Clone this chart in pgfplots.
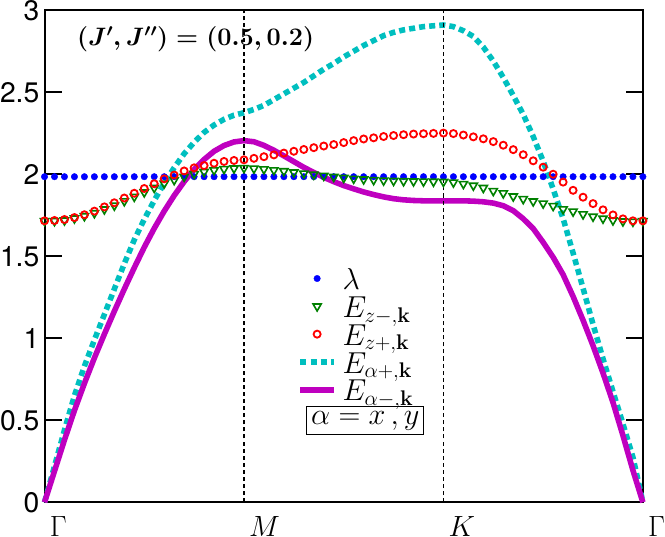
\RequirePackage{fix-cm}
\documentclass[border=0pt]{standalone}
\usepackage[no-math]{fontspec}
\setmainfont{TeX Gyre Heros}
\usepackage{pgfplots}
\usepackage{pgfplotstable}
\pgfplotsset{compat=1.18}
\definecolor{cG}{rgb}{0,0.5,0}
\definecolor{cC}{rgb}{0,0.75,0.75}
\definecolor{cM}{rgb}{0.75,0,0.75}
\setlength{\fboxsep}{4bp}
\setlength{\fboxrule}{0.8bp}
\newsavebox{\titlebox}
\newsavebox{\alphabox}
\newsavebox{\lA}\newsavebox{\lB}\newsavebox{\lC}\newsavebox{\lD}\newsavebox{\lE}
\newsavebox{\tG}\newsavebox{\tM}\newsavebox{\tK}
\pgfplotsset{
  legend image code/.code={\draw[mark repeat=2,mark phase=2,#1] plot coordinates {(0bp,11bp) (16.5bp,11bp) (33bp,11bp)};},
}
\pgfplotstableread{
x lam zm zp ap am
0.00 1.985 1.715 1.716 0 0
0.05 1.985 1.715 1.718 0.22 0.19
0.10 1.985 1.719 1.724 0.44 0.38
0.15 1.985 1.731 1.736 0.65 0.56
0.20 1.985 1.745 1.753 0.83 0.725
0.25 1.985 1.763 1.775 0.99 0.88
0.30 1.985 1.786 1.801 1.145 1.025
0.35 1.985 1.809 1.826 1.30 1.165
0.40 1.985 1.836 1.855 1.455 1.30
0.45 1.985 1.863 1.884 1.60 1.43
0.50 1.985 1.890 1.913 1.725 1.555
0.55 1.985 1.917 1.942 1.84 1.67
0.60 1.985 1.944 1.972 1.945 1.775
0.65 1.985 1.965 1.995 2.04 1.87
0.70 1.985 1.985 2.020 2.125 1.955
0.75 1.985 2.002 2.039 2.195 2.03
0.80 1.985 2.015 2.053 2.255 2.09
0.85 1.985 2.025 2.067 2.30 2.14
0.90 1.985 2.032 2.078 2.335 2.175
0.95 1.985 2.036 2.084 2.36 2.197
1.00 1.985 2.038 2.088 2.375 2.205
1.05 1.985 2.035 2.097 2.395 2.198
1.10 1.985 2.031 2.107 2.42 2.176
1.15 1.985 2.025 2.118 2.455 2.146
1.20 1.985 2.019 2.129 2.49 2.112
1.25 1.985 2.012 2.140 2.525 2.077
1.30 1.985 2.005 2.151 2.56 2.042
1.35 1.985 1.998 2.162 2.60 2.011
1.40 1.985 1.991 2.172 2.64 1.981
1.45 1.985 1.984 2.181 2.675 1.955
1.50 1.985 1.978 2.193 2.715 1.931
1.55 1.985 1.973 2.205 2.75 1.911
1.60 1.985 1.969 2.215 2.785 1.892
1.65 1.985 1.965 2.222 2.815 1.876
1.70 1.985 1.962 2.230 2.845 1.862
1.75 1.985 1.960 2.236 2.865 1.851
1.80 1.985 1.958 2.241 2.88 1.844
1.85 1.985 1.957 2.245 2.89 1.840
1.90 1.985 1.956 2.247 2.90 1.838
1.95 1.985 1.955 2.249 2.905 1.838
2.00 1.985 1.954 2.251 2.91 1.838
2.05 1.985 1.950 2.248 2.90 1.838
2.10 1.985 1.941 2.239 2.875 1.838
2.15 1.985 1.931 2.228 2.84 1.836
2.20 1.985 1.917 2.216 2.775 1.832
2.25 1.985 1.898 2.199 2.69 1.824
2.30 1.985 1.884 2.177 2.59 1.808
2.35 1.985 1.865 2.150 2.48 1.778
2.40 1.985 1.849 2.119 2.365 1.729
2.45 1.985 1.835 2.082 2.23 1.669
2.50 1.985 1.822 2.043 2.08 1.585
2.55 1.985 1.807 2.000 1.91 1.494
2.60 1.985 1.787 1.952 1.73 1.388
2.65 1.985 1.773 1.902 1.52 1.255
2.70 1.985 1.756 1.860 1.305 1.110
2.75 1.985 1.742 1.821 1.085 0.955
2.80 1.985 1.730 1.783 0.875 0.788
2.85 1.985 1.719 1.752 0.675 0.609
2.90 1.985 1.713 1.728 0.478 0.407
2.95 1.985 1.711 1.716 0.275 0.195
3.00 1.985 1.715 1.716 0 0
}\datatable
\begin{document}
\sbox{\titlebox}{\fontsize{25}{28}\selectfont\boldmath$(J',J'')=(0.5,0.2)$}%
\sbox{\alphabox}{\fontsize{30}{32}\selectfont\fbox{$\alpha=x\,,y$}}%
\sbox{\lA}{\fontsize{30}{32}\selectfont\vrule height 22bp depth 14.5bp width 0pt$\lambda$}%
\sbox{\lB}{\fontsize{30}{32}\selectfont\vrule height 22bp depth 14.5bp width 0pt$E_{z-,\mathbf{k}}$}%
\sbox{\lC}{\fontsize{30}{32}\selectfont\vrule height 22bp depth 14.5bp width 0pt$E_{z+,\mathbf{k}}$}%
\sbox{\lD}{\fontsize{30}{32}\selectfont\vrule height 22bp depth 14.5bp width 0pt$E_{\alpha+,\mathbf{k}}$}%
\sbox{\lE}{\fontsize{30}{32}\selectfont\vrule height 22bp depth 14.5bp width 0pt$E_{\alpha-,\mathbf{k}}$}%
\sbox{\tG}{\fontsize{29}{30}\selectfont$\Gamma$}%
\sbox{\tM}{\fontsize{29}{30}\selectfont$M$}%
\sbox{\tK}{\fontsize{29}{30}\selectfont$K$}%
\begin{tikzpicture}
\begin{axis}[
  scale only axis, width=591bp, height=486bp,
  xmin=0, xmax=3, ymin=0, ymax=3,
  xtick={0,1,2,3}, xticklabels={\usebox{\tG},\usebox{\tM},\usebox{\tK},\usebox{\tG}},
  ytick={0,0.5,1,1.5,2,2.5,3},
  tick align=inside,
  major tick length=17bp,
  tick style={line width=2bp, black},
  xtick style={draw=none},
  axis line style={line width=2bp},
  yticklabel style={font=\fontsize{28}{30}\selectfont, inner sep=0pt, xshift=-5bp},
  xticklabel style={anchor=north west, inner sep=0pt, xshift=5bp, yshift=-14bp},
  /pgf/number format/assume math mode=true,
  clip=false,
  title={\usebox{\titlebox}},
  title style={at={(axis description cs:0.054,0.9156)}, anchor=base west, inner sep=0pt},
  legend cell align=left,
  legend style={at={(axis description cs:0.423,0.4815)}, anchor=north west,
    draw=none, fill=none, inner sep=0pt, outer sep=0pt,
    row sep=0pt, column sep=4bp,
    cells={anchor=base west, inner sep=0pt},
    font=\fontsize{30}{32}\selectfont},
]
\addplot[only marks, mark=*, mark size=3.2bp, blue, mark options={fill=blue, draw=blue, line width=0.4bp}] table[x=x,y=lam]{\datatable};
\addlegendentry{\usebox{\lA}}
\addplot[only marks, mark=triangle, mark size=4.6bp, cG, mark options={rotate=180, line width=1.6bp}] table[x=x,y=zm]{\datatable};
\addlegendentry{\usebox{\lB}}
\addplot[only marks, mark=o, mark size=3.5bp, red, mark options={line width=1.8bp}] table[x=x,y=zp]{\datatable};
\addlegendentry{\usebox{\lC}}
\addplot[cC, line width=5.5bp, dash pattern=on 6bp off 4bp] table[x=x,y=ap]{\datatable};
\addlegendentry{\usebox{\lD}}
\addplot[cM, line width=5.5bp] table[x=x,y=am]{\datatable};
\addlegendentry{\usebox{\lE}}
\addlegendimage{empty legend}
\addlegendentry{\hspace*{-36bp}\usebox{\alphabox}}
\addplot[black, line width=1.6bp, dash pattern=on 4bp off 3bp, forget plot] coordinates {(1,0) (1,3)};
\addplot[black, line width=1.6bp, dash pattern=on 4bp off 3bp, forget plot] coordinates {(2,0) (2,3)};
\end{axis}
\end{tikzpicture}
\end{document}
